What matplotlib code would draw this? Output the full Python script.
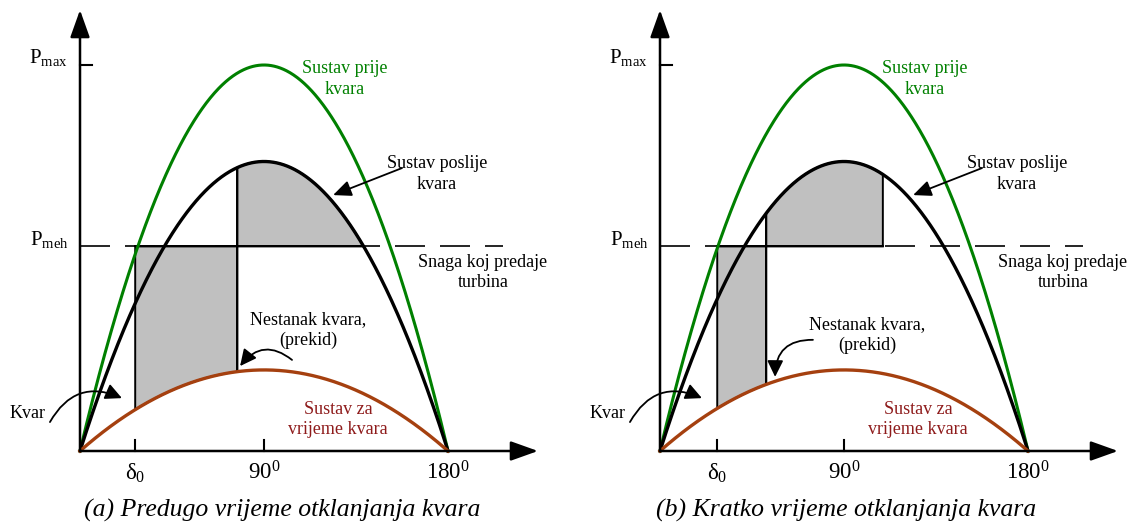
import matplotlib.pyplot as plt
import numpy as np

plt.rcParams['font.family'] = ['Liberation Serif', 'DejaVu Serif']
plt.rcParams['mathtext.fontset'] = 'custom'
plt.rcParams['mathtext.rm'] = 'Liberation Serif'
plt.rcParams['mathtext.it'] = 'Liberation Serif:italic'
plt.rcParams['lines.scale_dashes'] = False

# amplitudes of the P-delta curves (per unit of Pmax)
p_before = 1.0      # Sustav prije kvara
p_after = 0.75      # Sustav poslije kvara
p_fault = 0.21      # Sustav za vrijeme kvara
p_meh = 0.53        # snaga turbine
p_line_end = 207    # kraj isprekidane linije (deg)

# angles (deg) for panel (a) and (b)
delta0 = [27, 28]
delta_clear = [77, 52]
delta_stop = [None, 109]    # None -> crossing of post-fault curve with Pmeh
captions = ["(a) Predugo vrijeme otklanjanja kvara",
            "(b) Kratko vrijeme otklanjanja kvara"]
tick_angles = [90, 180]
tick_labels = ["90$^{0}$", "180$^{0}$"]

GREEN = "#008000"
BROWN = "#A5400F"
DARKRED = "#8E1B1B"
GRAY = "#C0C0C0"

W, H = 1129, 526
K = 368 / 180.0     # px per degree
S = 386.0           # px per unit power
origins = [80, 660]
spans = [(0, 564), (564, 1129)]


def characteristic(delta, amp):
    # shape of the drawn power-angle curve, peak at 90 deg
    return amp * 4 * delta * (180 - delta) / 180.0 ** 2


def lines_text(ax, x, y, lines, dy=0.053, **kw):
    for i, s in enumerate(lines):
        ax.text(x, y - i * dy, s, ha="center", va="baseline", **kw)


def curved_arrow(ax, tail, head, rad, ms=22):
    ax.annotate("", xy=head, xytext=tail,
                arrowprops=dict(arrowstyle="-|>,head_length=0.45,head_width=0.22",
                                mutation_scale=ms, lw=1.3, color="k",
                                shrinkA=0, shrinkB=0,
                                connectionstyle="arc3,rad=%s" % rad))


fig = plt.figure(figsize=(W / 100, H / 100), dpi=100)
d = np.linspace(0, 180, 721)

for i in range(2):
    L, R = spans[i]
    ox = origins[i]
    ax = fig.add_axes([L / W, 0, (R - L) / W, 1])
    ax.set_xlim((L - ox) / K, (R - ox) / K)
    ax.set_ylim(-(H - 451) / S, 451 / S)
    ax.axis("off")

    green = characteristic(d, p_before)
    black = characteristic(d, p_after)
    brown = characteristic(d, p_fault)

    d0, dc = delta0[i], delta_clear[i]
    dm = delta_stop[i]
    if dm is None:
        dm = d[(d > 90) & (black >= p_meh)].max()

    # accelerating area
    m = (d >= d0) & (d <= dc)
    xs = np.concatenate([[d0], [dc], d[m][::-1]])
    ys = np.concatenate([[p_meh], [p_meh], brown[m][::-1]])
    ax.fill(xs, ys, facecolor=GRAY, edgecolor="k", lw=1.4, zorder=1)
    # decelerating area
    m = (d >= dc) & (d <= dm)
    xs = np.concatenate([[dc], d[m], [dm]])
    ys = np.concatenate([[p_meh], black[m], [p_meh]])
    ax.fill(xs, ys, facecolor=GRAY, edgecolor="k", lw=1.4, zorder=1)
    # clearing line up to the post-fault curve
    ax.plot([dc, dc], [characteristic(dc, p_fault), characteristic(dc, p_after)],
            color="k", lw=1.4, zorder=2)

    # mechanical power line (solid where it bounds the areas)
    ax.plot([0, p_line_end], [p_meh, p_meh], color="k", lw=1.2,
            dashes=(21.6, 10.8), dash_capstyle="butt", zorder=1.5)
    ax.plot([d0, dm], [p_meh, p_meh], color="k", lw=1.4, zorder=2)

    ax.plot(d, green, color=GREEN, lw=2.2, zorder=3)
    ax.plot(d, black, color="k", lw=2.4, zorder=3)
    ax.plot(d, brown, color=BROWN, lw=2.4, zorder=3)

    # axes with arrows
    arr = dict(arrowstyle="-|>,head_length=0.42,head_width=0.15",
               mutation_scale=40, lw=1.8, color="k", shrinkA=0, shrinkB=0)
    ax.annotate("", xy=(0, 441 / S), xytext=(0, 0), arrowprops=arr, zorder=4)
    ax.annotate("", xy=(458 / K, 0), xytext=(0, 0), arrowprops=arr, zorder=4)
    ax.plot([0, 12 / K], [p_before, p_before], color="k", lw=1.5)
    for t in [d0, 90]:
        ax.plot([t, t], [0, 11 / S], color="k", lw=1.5)

    # tick labels
    ax.text(d0, -29 / S, "δ$_{0}$", ha="center", va="baseline", fontsize=16.5)
    for t, s in zip(tick_angles, tick_labels):
        ax.text(t, -29 / S, s, ha="center", va="baseline", fontsize=16.5)
    ax.text(-12 / K, 388 / S, "P$_{\\mathrm{max}}$", ha="right", va="baseline",
            fontsize=15)
    ax.text(-11 / K, 206 / S, "P$_{\\mathrm{meh}}$", ha="right", va="baseline",
            fontsize=15)

    # annotations
    lines_text(ax, 129.6, 0.979, ["Sustav prije", "kvara"], color=GREEN, fontsize=13)
    lines_text(ax, 174.6, 0.733, ["Sustav poslije", "kvara"], fontsize=13)
    ax.annotate("", xy=(123.8, 0.663), xytext=(157.5, 0.733),
                arrowprops=dict(arrowstyle="-|>,head_length=0.5,head_width=0.22",
                                mutation_scale=22, lw=1.3, color="k",
                                shrinkA=0, shrinkB=0), zorder=5)
    lines_text(ax, 197.1, 0.477, ["Snaga koj predaje", "turbina"], fontsize=13)
    lines_text(ax, 126.2, 0.096, ["Sustav za", "vrijeme kvara"], color=DARKRED,
               fontsize=13)

    ax.text(-17.1, 0.0855, "Kvar", ha="right", va="baseline", fontsize=13)
    curved_arrow(ax, (-14.7, 0.075), (20.5, 0.137), -0.45)

    if i == 0:
        lines_text(ax, 111.5, 0.329, ["Nestanak kvara,", "(prekid)"], fontsize=13)
        curved_arrow(ax, (103.7, 0.236), (78.3, 0.220), 0.5)
    else:
        lines_text(ax, 101.3, 0.316, ["Nestanak kvara,", "(prekid)"], fontsize=13)
        curved_arrow(ax, (74.8, 0.288), (56.3, 0.192), 0.5)

    ax.text(((L + R) / 2 - ox) / K, -66 / S, captions[i],
            ha="center", va="baseline", fontsize=18.5, style="italic")

fig.savefig("out.png", dpi=100)
